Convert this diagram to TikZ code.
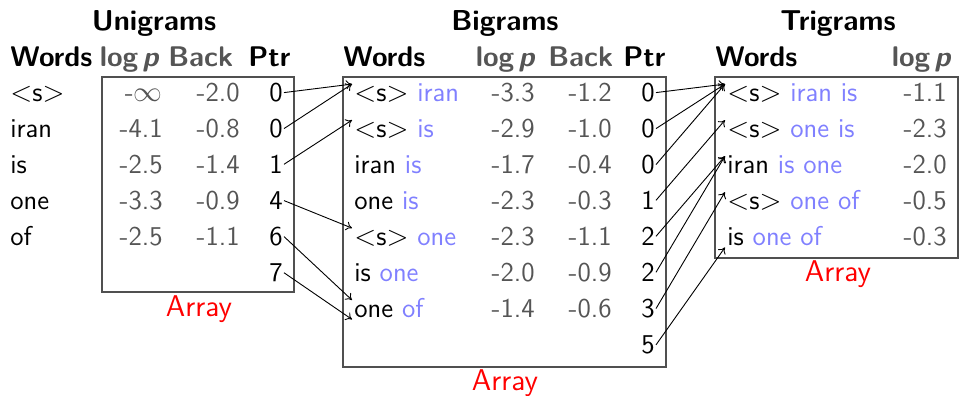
\documentclass[tikz,border=0pt]{standalone}
\usetikzlibrary{arrows.meta}

\definecolor{numgray}{RGB}{85,85,85}
\definecolor{wblue}{RGB}{128,128,255}
\definecolor{boxgray}{RGB}{80,80,80}

\newcommand\bl[1]{\textcolor{wblue}{#1}}
\newcommand\ssym{$<$s$>$}
\newcommand\logp{log\hspace{0.15em}\textsl{p}}
\newcommand\bodyfont{\fontsize{13.6}{16}\selectfont\sffamily}
\newcommand\headfont{\fontsize{14.2}{17}\selectfont\sffamily\bfseries}
\newcommand\titlefont{\fontsize{14.4}{17}\selectfont\sffamily\bfseries}
\newcommand\labelfont{\fontsize{15}{18}\selectfont\sffamily}

\tikzset{
  txt/.style={inner sep=0pt, font=\bodyfont},
  ttl/.style={inner sep=0pt, font=\titlefont, anchor=base},
  hdr/.style={inner sep=0pt, font=\headfont, anchor=base west},
  ghdr/.style={hdr, text=numgray},
  word/.style={txt, anchor=base west, inner xsep=1pt, text height=8.5pt, text depth=0.75pt},
  num/.style={txt, anchor=base east, text=numgray},
  ptr/.style={txt, anchor=base east, inner xsep=0.5pt},
  arraybox/.style={draw=boxgray, line width=0.75pt, inner sep=0pt},
  lbl/.style={inner sep=0pt, font=\labelfont, text=red, anchor=base},
  link/.style={-{To[length=3pt,width=4.5pt]}, line width=0.45pt}
}

\begin{document}
\begin{tikzpicture}[x=0.5pt,y=-0.5pt]
\useasboundingbox (0,0) rectangle (960,396);

% the three array boxes
\node[arraybox, minimum width=96pt,    minimum height=107.5pt] (ubox) at (198,184.5) {};
\node[arraybox, minimum width=161.5pt, minimum height=145pt]   (bbox) at (504.5,222) {};
\node[arraybox, minimum width=121.5pt, minimum height=90.5pt]  (tbox) at (836.5,167.5) {};

% titles
\node[ttl] (utitle) at (154,31) {Unigrams};
\node[ttl] (btitle) at (505,31) {Bigrams};
\node[ttl] (ttitle) at (838,31) {Trigrams};

% column headers
\node[hdr]  (uhw) at (10,66)  {Words};
\node[ghdr, anchor=base] (uhl) at (130,66) {\logp};
\node[ghdr] (uhb) at (168,66) {Back};
\node[hdr]  (uhp) at (248,66) {Ptr};

\node[hdr]  (bhw) at (343,66) {Words};
\node[ghdr, anchor=base] (bhl) at (506,66) {\logp};
\node[ghdr] (bhb) at (548,66) {Back};
\node[hdr]  (bhp) at (623,66) {Ptr};

\node[hdr]  (thw) at (715,66) {Words};
\node[ghdr, anchor=base] (thl) at (922,66) {\logp};

% unigram rows
\foreach \w/\lp/\bk/\pt [count=\i] in
  {{\ssym}/{-$\infty$}/-2.0/0, iran/-4.1/-0.8/0, is/-2.5/-1.4/1,
   one/-3.3/-0.9/4, of/-2.5/-1.1/6}{
  \pgfmathsetmacro\yy{101.5+36*(\i-1)}
  \node[word] (uw\i) at (8,\yy)   {\w};
  \node[num]  (ul\i) at (163,\yy) {\lp};
  \node[num]  (ub\i) at (240,\yy) {\bk};
  \node[ptr]  (up\i) at (284,\yy) {\pt};
}
\node[ptr] (up6) at (284,281.5) {7};

% bigram rows
\foreach \w/\lp/\bk/\pt [count=\i] in
  {{\ssym\ \bl{iran}}/-3.3/-1.2/0, {\ssym\ \bl{is}}/-2.9/-1.0/0,
   {iran \bl{is}}/-1.7/-0.4/0, {one \bl{is}}/-2.3/-0.3/1,
   {\ssym\ \bl{one}}/-2.3/-1.1/2, {is \bl{one}}/-2.0/-0.9/2,
   {one \bl{of}}/-1.4/-0.6/3}{
  \pgfmathsetmacro\yy{101.5+36*(\i-1)}
  \node[word] (bw\i) at (352,\yy) {\w};
  \node[num]  (bl\i) at (535,\yy) {\lp};
  \node[num]  (bb\i) at (612,\yy) {\bk};
  \node[ptr]  (bp\i) at (656,\yy) {\pt};
}
\node[ptr] (bp8) at (656,353.5) {5};

% trigram rows
\foreach \w/\lp [count=\i] in
  {{\ssym\ \bl{iran is}}/-1.1, {\ssym\ \bl{one is}}/-2.3,
   {iran \bl{is one}}/-2.0, {\ssym\ \bl{one of}}/-0.5,
   {is \bl{one of}}/-0.3}{
  \pgfmathsetmacro\yy{101.5+36*(\i-1)}
  \node[word] (tw\i) at (725,\yy) {\w};
  \node[num]  (tl\i) at (947,\yy) {\lp};
}

% array labels
\node[lbl] (ulab) at (199,316) {Array};
\node[lbl] (blab) at (505,390) {Array};
\node[lbl] (tlab) at (838,281) {Array};

% pointers from unigrams into the bigram array
\draw[link] (up1.east) -- (bw1.north west);
\draw[link] (up2.east) -- (bw1.north west);
\draw[link] (up3.east) -- (bw2.north west);
\draw[link] (up4.east) -- (bw5.north west);
\draw[link] (up5.east) -- (bw7.north west);
\draw[link] (up6.east) -- (bw7.south west);

% pointers from bigrams into the trigram array
\draw[link] (bp1.east) -- (tw1.north west);
\draw[link] (bp2.east) -- (tw1.north west);
\draw[link] (bp3.east) -- (tw1.north west);
\draw[link] (bp4.east) -- (tw2.north west);
\draw[link] (bp5.east) -- (tw3.north west);
\draw[link] (bp6.east) -- (tw3.north west);
\draw[link] (bp7.east) -- (tw4.north west);
\draw[link] (bp8.east) -- (tw5.south west);
\end{tikzpicture}
\end{document}
